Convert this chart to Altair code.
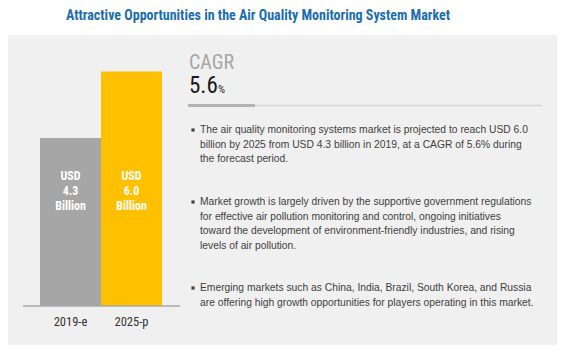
import altair as alt
import pandas as pd

# ---- data ----
categories = ["2019-e", "2025-p"]
values = [4.3, 6.0]
bar_colors = ["#a6a6a6", "#ffc000"]
bar_label_top = ["USD", "USD"]
bar_label_mid = ["4.3", "6.0"]
bar_label_bot = ["Billion", "Billion"]

title_text = "Attractive Opportunities in the Air Quality Monitoring System Market"
cagr_label = "CAGR"
cagr_value = "5.6"
cagr_unit = "%"

bullet1 = [
    "The air quality monitoring systems market is projected to reach USD 6.0",
    "billion by 2025 from USD 4.3 billion in 2019, at a CAGR of 5.6% during",
    "the forecast period.",
]
bullet2 = [
    "Market growth is largely driven by the supportive government regulations",
    "for effective air pollution monitoring and control, ongoing initiatives",
    "toward the development of environment-friendly industries, and rising",
    "levels of air pollution.",
]
bullet3 = [
    "Emerging markets such as China, India, Brazil, South Korea, and Russia",
    "are offering high growth opportunities for players operating in this market.",
]
bullets = [bullet1, bullet2, bullet3]

# ---- layout ----
W, H = 551, 339
NARROW = "Liberation Sans Narrow, Roboto Condensed, DejaVu Sans Condensed, sans-serif"
BODY = "Liberation Sans, Arial, sans-serif"
one = pd.DataFrame({"k": [0]})

bars_df = pd.DataFrame({
    "year": categories, "value": values, "color": bar_colors,
    "top": bar_label_top, "mid": bar_label_mid, "bot": bar_label_bot,
})

x_scale = alt.Scale(domain=categories, range=[32, 154], paddingInner=0, paddingOuter=0)
y_scale = alt.Scale(domain=[0, 6], range=[298, 63.6], nice=False, zero=True)

layers = []

# panel
layers.append(alt.Chart(one).mark_rect(color="#f0f0f0").encode(
    x=alt.value(0), x2=alt.value(549), y=alt.value(27), y2=alt.value(337)))

# title
layers.append(alt.Chart(one).mark_text(
    text=title_text, font=NARROW, fontSize=14, fontWeight="bold", color="#1b6db3",
    align="center", baseline="middle").encode(x=alt.value(250), y=alt.value(8)))

# bars
layers.append(alt.Chart(bars_df).mark_bar().encode(
    x=alt.X("year:N", scale=x_scale, axis=None),
    y=alt.Y("value:Q", scale=y_scale, axis=None),
    color=alt.Color("color:N", scale=None, legend=None)))

# baseline
layers.append(alt.Chart(one).mark_rule(color="#a8a8a8", strokeWidth=1.5).encode(
    x=alt.value(15), x2=alt.value(172), y=alt.value(298)))

# bar labels
for field, ypos in [("top", 168), ("mid", 183), ("bot", 198)]:
    layers.append(alt.Chart(bars_df).mark_text(
        font=NARROW, fontSize=12, fontWeight="bold", color="white",
        align="center", baseline="middle").encode(
        x=alt.X("year:N", scale=x_scale, axis=None),
        y=alt.value(ypos), text=f"{field}:N"))

# category labels
layers.append(alt.Chart(bars_df).mark_text(
    font=NARROW, fontSize=12.5, color="#333333", align="center", baseline="middle").encode(
    x=alt.X("year:N", scale=x_scale, axis=None), y=alt.value(314), text="year:N"))

# CAGR
layers.append(alt.Chart(one).mark_text(
    text=cagr_label, font=NARROW, fontSize=20, color="#a6a6a6",
    align="left", baseline="alphabetic").encode(x=alt.value(181), y=alt.value(61)))
layers.append(alt.Chart(one).mark_text(
    text=cagr_value, font=NARROW, fontSize=23, color="#1a1a1a",
    align="left", baseline="alphabetic").encode(x=alt.value(181), y=alt.value(85)))
layers.append(alt.Chart(one).mark_text(
    text=cagr_unit, font=NARROW, fontSize=11, color="#1a1a1a",
    align="left", baseline="alphabetic").encode(x=alt.value(210), y=alt.value(85)))

# divider
layers.append(alt.Chart(one).mark_rule(color="#d6d6d6", strokeWidth=1.5).encode(
    x=alt.value(180), x2=alt.value(534), y=alt.value(97.5)))
layers.append(alt.Chart(one).mark_rule(color="#b3b3b3", strokeWidth=3).encode(
    x=alt.value(180), x2=alt.value(247), y=alt.value(97.5)))

# bullets
starts = [122, 194, 280]
lh = 14.5
for lines, y0 in zip(bullets, starts):
    layers.append(alt.Chart(one).mark_square(size=10, color="#404040", opacity=1).encode(
        x=alt.value(185), y=alt.value(y0)))
    for i, line in enumerate(lines):
        layers.append(alt.Chart(one).mark_text(
            text=line, font=BODY, fontSize=10.3, color="#404040",
            align="left", baseline="middle").encode(
            x=alt.value(192), y=alt.value(y0 + i * lh)))

chart = alt.layer(*layers).properties(
    width=W, height=H, padding=0, background="white",
    autosize=alt.AutoSizeParams(type="none"),
).configure_view(stroke=None)

chart.save("out.html", embed_options={"renderer": "svg", "actions": False})
